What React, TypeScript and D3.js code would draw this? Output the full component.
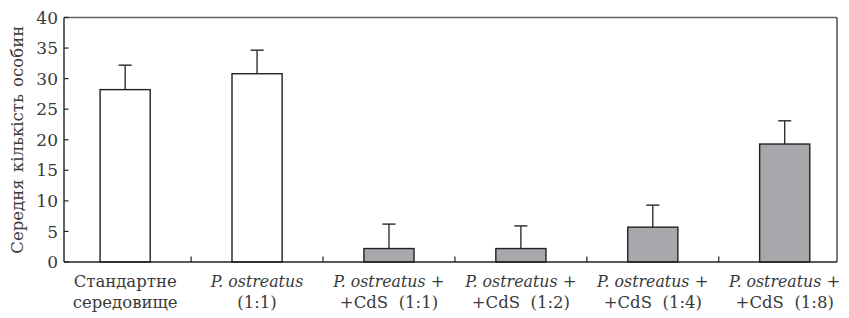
import React from "react";
import * as d3 from "d3";

const categories = ["std", "po11", "cds11", "cds12", "cds14", "cds18"];
const labelLine1 = ["Стандартне", "P. ostreatus", "P. ostreatus +", "P. ostreatus +", "P. ostreatus +", "P. ostreatus +"];
const labelLine2 = ["середовище", "(1:1)", "+CdS  (1:1)", "+CdS  (1:2)", "+CdS  (1:4)", "+CdS  (1:8)"];
const means = [28.2, 30.8, 2.2, 2.2, 5.7, 19.3];
const errors = [4.0, 3.85, 4.0, 3.7, 3.6, 3.8];
const shaded = [false, false, true, true, true, true];
const yTicks = [0, 5, 10, 15, 20, 25, 30, 35, 40];
const yLabel = "Середня кількість особин";

const W = 849, H = 318;
const L = 64, R = 837, T = 17.5, B = 262;
const FONT = "DejaVu Serif";

function renderLine1(s: string) {
  if (s.startsWith("P. ostreatus")) {
    const rest = s.slice("P. ostreatus".length);
    return (
      <>
        <tspan fontStyle="italic" fontSize={15.8}>P. ostreatus</tspan>
        {rest ? <tspan>{rest}</tspan> : null}
      </>
    );
  }
  return s;
}

export default function App() {
  const x = d3.scaleBand<string>().domain(categories).range([L, R]).paddingInner(0.62).paddingOuter(0.24).align(0.57);
  const y = d3.scaleLinear().domain([0, 40]).range([B, T]);
  const bw = x.bandwidth();
  const step = x.step();
  const boundaries = categories.slice(1).map((c) => (x(c) as number) - (step - bw) / 2);

  return (
    <svg width={W} height={H} style={{ position: "absolute", left: 0, top: 0, background: "#fff" }}>
      {categories.map((c, i) => {
        const x0 = x(c) as number;
        const cx = x0 + bw / 2;
        return (
          <g key={c}>
            <line x1={cx} x2={cx} y1={y(means[i])} y2={y(means[i] + errors[i])} stroke="#222" strokeWidth={1.3} />
            <line x1={cx - 6.5} x2={cx + 6.5} y1={y(means[i] + errors[i])} y2={y(means[i] + errors[i])} stroke="#333" strokeWidth={1.5} />
            <rect x={x0} y={y(means[i])} width={bw} height={B - y(means[i])} fill={shaded[i] ? "#a7a8ac" : "#fff"} stroke="#222" strokeWidth={1.4} />
          </g>
        );
      })}
      <line x1={L} x2={R} y1={T} y2={T} stroke="#666" strokeWidth={1.4} />
      <line x1={R} x2={R} y1={T} y2={B} stroke="#333" strokeWidth={1.3} />
      <line x1={L} x2={L} y1={T} y2={B} stroke="#222" strokeWidth={1.4} />
      <line x1={L} x2={R} y1={B} y2={B} stroke="#222" strokeWidth={1.4} />
      {yTicks.map((t) => (
        <g key={t}>
          <line x1={L} x2={L + 4.5} y1={y(t)} y2={y(t)} stroke="#222" strokeWidth={1.2} />
          <text x={58} y={y(t)} dy="0.36em" textAnchor="end" fontSize={17} fontFamily={FONT} fill="#3a3a3a">{t}</text>
        </g>
      ))}
      {boundaries.map((bx, i) => (
        <line key={i} x1={bx} x2={bx} y1={B} y2={B - 5.5} stroke="#222" strokeWidth={1.2} />
      ))}
      {categories.map((c, i) => {
        const cx = (x(c) as number) + bw / 2;
        return (
          <g key={c} fill="#3a3a3a" fontFamily={FONT} fontSize={16.5}>
            <text x={cx} y={287} textAnchor="middle" style={{ whiteSpace: "pre" }}>{renderLine1(labelLine1[i])}</text>
            <text x={cx} y={308} textAnchor="middle" style={{ whiteSpace: "pre" }}>{labelLine2[i]}</text>
          </g>
        );
      })}
      <text transform={`translate(23,${(T + B) / 2}) rotate(-90)`} textAnchor="middle" fontSize={16.5} fontFamily={FONT} fill="#3a3a3a" wordSpacing={2}>{yLabel}</text>
    </svg>
  );
}
